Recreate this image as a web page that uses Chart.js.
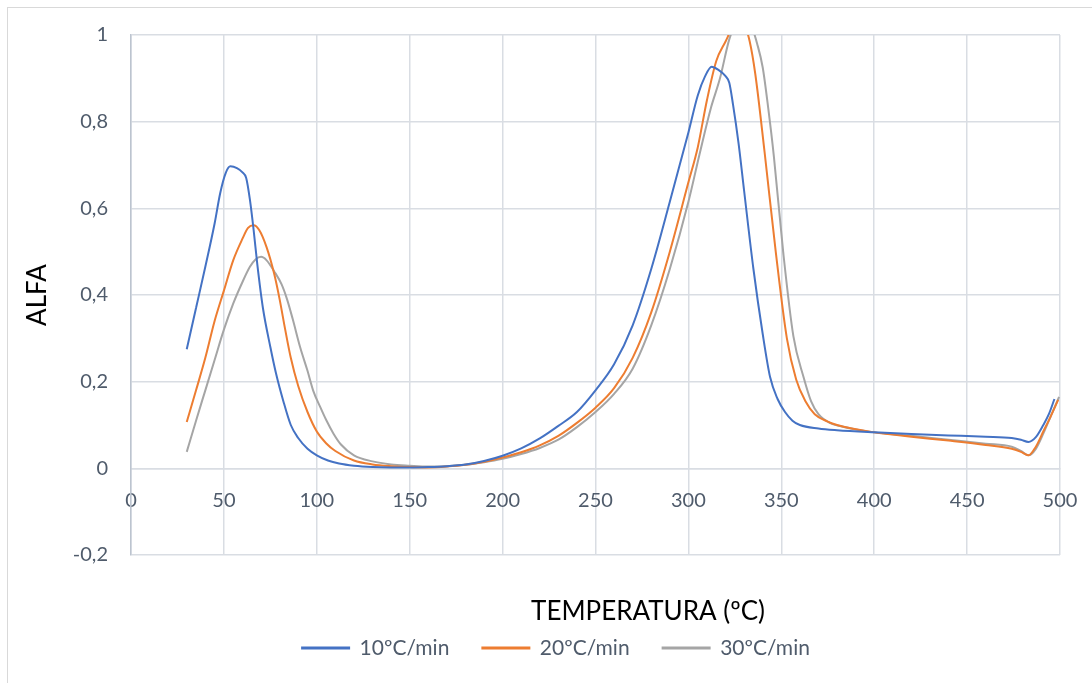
<!DOCTYPE html>
<html>
<head>
<meta charset="utf-8">
<script src="https://cdn.jsdelivr.net/npm/chart.js@4/dist/chart.umd.min.js"></script>
<style>
  body { margin: 0; background: #fff; overflow: hidden; }
  .frame { position: absolute; left: 7px; top: 7px; width: 1200px; height: 800px; border: 1px solid #d9d9d9; }
  .wrap { position: absolute; left: 0; top: 0; width: 1092px; height: 683px; }
</style>
</head>
<body>
<div class="frame"></div>
<div class="wrap"><canvas id="alfaChart" width="1092" height="683"></canvas></div>
<script>
// Values (temperature in ºC, conversion alfa)
const temp10 = [30, 35, 40, 45, 48, 51, 53.5, 57, 60, 62, 64, 66, 68, 71, 75, 78, 82, 86, 90, 95, 100, 106, 112, 120, 130, 140, 150, 160, 170, 180, 190, 200, 210, 220, 230, 240, 250, 260, 270, 280, 290, 300, 305, 309, 312.5, 316, 320, 322, 324, 327, 330, 335, 340, 344, 348, 352, 356, 360, 370, 380, 400, 420, 440, 460, 474, 479, 483, 487, 491, 494, 497];
const alfa10 = [0.275, 0.37, 0.465, 0.565, 0.635, 0.682, 0.697, 0.693, 0.683, 0.67, 0.62, 0.55, 0.47, 0.37, 0.28, 0.22, 0.155, 0.10, 0.07, 0.045, 0.03, 0.018, 0.011, 0.006, 0.003, 0.002, 0.002, 0.003, 0.005, 0.009, 0.017, 0.029, 0.046, 0.069, 0.098, 0.13, 0.18, 0.24, 0.33, 0.46, 0.615, 0.775, 0.86, 0.905, 0.927, 0.92, 0.905, 0.89, 0.84, 0.75, 0.64, 0.46, 0.31, 0.21, 0.16, 0.13, 0.11, 0.1, 0.092, 0.088, 0.083, 0.079, 0.076, 0.073, 0.07, 0.066, 0.061, 0.072, 0.1, 0.125, 0.16];

const temp20 = [30, 35, 40, 45, 50, 55, 60, 63, 66, 69, 73, 77, 80, 83, 86, 90, 95, 100, 105, 110, 120, 130, 140, 150, 160, 170, 180, 190, 200, 210, 220, 230, 240, 250, 260, 270, 280, 290, 300, 305, 310, 315, 320, 324, 327, 330, 333, 336, 341, 347, 353, 358, 363, 368, 375, 380, 400, 420, 440, 460, 474, 479, 483, 487, 491, 495, 499];
const alfa20 = [0.107, 0.18, 0.255, 0.34, 0.41, 0.48, 0.53, 0.555, 0.561, 0.55, 0.51, 0.45, 0.39, 0.32, 0.255, 0.19, 0.13, 0.085, 0.058, 0.04, 0.018, 0.009, 0.005, 0.003, 0.002, 0.004, 0.008, 0.015, 0.025, 0.037, 0.053, 0.075, 0.105, 0.14, 0.185, 0.255, 0.36, 0.5, 0.66, 0.74, 0.85, 0.94, 0.985, 1.02, 1.035, 1.025, 0.985, 0.91, 0.73, 0.5, 0.3, 0.205, 0.155, 0.125, 0.108, 0.1, 0.083, 0.073, 0.064, 0.054, 0.045, 0.038, 0.03, 0.05, 0.085, 0.12, 0.158];

const temp30 = [30, 35, 40, 45, 50, 55, 60, 64, 67, 70, 73, 77, 81, 84, 87, 91, 95, 98, 102, 105, 109, 113, 120, 130, 140, 150, 160, 170, 180, 190, 200, 210, 220, 230, 240, 250, 260, 270, 280, 290, 300, 306, 312, 317, 322, 326, 330, 334, 337, 340, 343, 346, 351, 356.5, 362, 366, 370, 376, 382, 400, 420, 440, 460, 474, 479, 483, 487, 491, 495, 499.5];
const alfa30 = [0.038, 0.11, 0.18, 0.25, 0.32, 0.38, 0.43, 0.465, 0.482, 0.488, 0.48, 0.455, 0.425, 0.39, 0.345, 0.28, 0.225, 0.18, 0.14, 0.112, 0.08, 0.055, 0.03, 0.016, 0.009, 0.006, 0.004, 0.005, 0.008, 0.014, 0.022, 0.033, 0.047, 0.066, 0.095, 0.13, 0.172, 0.23, 0.33, 0.46, 0.615, 0.725, 0.83, 0.9, 0.99, 1.03, 1.05, 1.02, 0.98, 0.925, 0.83, 0.72, 0.5, 0.305, 0.21, 0.155, 0.125, 0.105, 0.097, 0.083, 0.075, 0.066, 0.057, 0.05, 0.04, 0.03, 0.045, 0.08, 0.12, 0.165];

const seriesNames = ['10ºC/min', '20ºC/min', '30ºC/min'];
const seriesColors = ['#4472C4', '#ED7D31', '#A5A5A5'];
const xTitle = 'TEMPERATURA (ºC)';
const yTitle = 'ALFA';

function toPoints(xs, ys) {
  return xs.map((x, i) => ({ x: x, y: ys[i] }));
}

const fontFamily = 'Lato, "Noto Sans", sans-serif';
const textColor = '#4f5b6b';
const gridColor = '#d9dde3';

// draws the x axis title where the original sits (not centred on the plot)
const xTitlePlugin = {
  id: 'xTitle',
  afterDraw(chart) {
    const ctx = chart.ctx;
    ctx.save();
    ctx.font = '26px ' + fontFamily;
    ctx.fillStyle = '#000';
    ctx.textAlign = 'center';
    ctx.textBaseline = 'middle';
    ctx.fillText(xTitle, 648, 612);
    ctx.restore();
  }
};

const ctx = document.getElementById('alfaChart').getContext('2d');
const alfaChart = new Chart(ctx, {
  type: 'line',
  data: {
    datasets: [
      { label: seriesNames[0], data: toPoints(temp10, alfa10) },
      { label: seriesNames[1], data: toPoints(temp20, alfa20) },
      { label: seriesNames[2], data: toPoints(temp30, alfa30) }
    ].map((ds, i) => Object.assign(ds, {
      xAxisID: 'x',
      yAxisID: 'y',
      borderColor: seriesColors[i],
      backgroundColor: seriesColors[i],
      borderWidth: 2,
      pointRadius: 0,
      cubicInterpolationMode: 'monotone',
      fill: false
    }))
  },
  options: {
    responsive: false,
    animation: false,
    events: [],
    layout: { padding: { left: 20, right: 0, top: 35, bottom: 14.5 } },
    plugins: {
      legend: {
        position: 'bottom',
        labels: {
          color: textColor,
          font: { family: fontFamily, size: 21 },
          boxWidth: 47,
          boxHeight: 1,
          padding: 33
        }
      },
      tooltip: { enabled: false }
    },
    scales: {
      x: {
        type: 'linear',
        axis: 'x',
        position: { y: 0 },
        min: 0,
        max: 500,
        ticks: {
          stepSize: 50,
          color: textColor,
          padding: 20,
          maxRotation: 0,
          font: { family: fontFamily, size: 20 }
        },
        grid: { color: gridColor, lineWidth: 1.5, drawTicks: false },
        border: { color: gridColor, width: 1.5 },
        // the end labels may overhang the plot, as in the original
        afterFit(scale) { scale.paddingLeft = 0; scale.paddingRight = 0; }
      },
      x2: {
        type: 'linear',
        axis: 'x',
        position: 'bottom',
        min: 0,
        max: 500,
        ticks: { display: false },
        grid: { display: false, drawTicks: false },
        border: { display: false },
        afterFit(scale) { scale.height = 49.5; }
      },
      y: {
        min: -0.2,
        max: 1,
        ticks: {
          stepSize: 0.2,
          color: textColor,
          padding: 23,
          font: { family: fontFamily, size: 20 },
          callback: v => String(Math.round(v * 10) / 10).replace('.', ',')
        },
        grid: { color: gridColor, lineWidth: 1.5, drawTicks: false },
        border: { color: '#bcc4cf', width: 1.5 },
        title: {
          display: true,
          text: yTitle,
          color: '#000',
          padding: { top: 2, bottom: 0 },
          font: { family: fontFamily, size: 26 }
        },
        afterFit(scale) { scale.width = 111; }
      },
      y2: {
        axis: 'y',
        position: 'right',
        min: -0.2,
        max: 1,
        ticks: { display: false },
        grid: { display: false, drawTicks: false },
        border: { display: false },
        afterFit(scale) { scale.width = 32; }
      }
    }
  },
  plugins: [xTitlePlugin]
});
</script>
</body>
</html>
